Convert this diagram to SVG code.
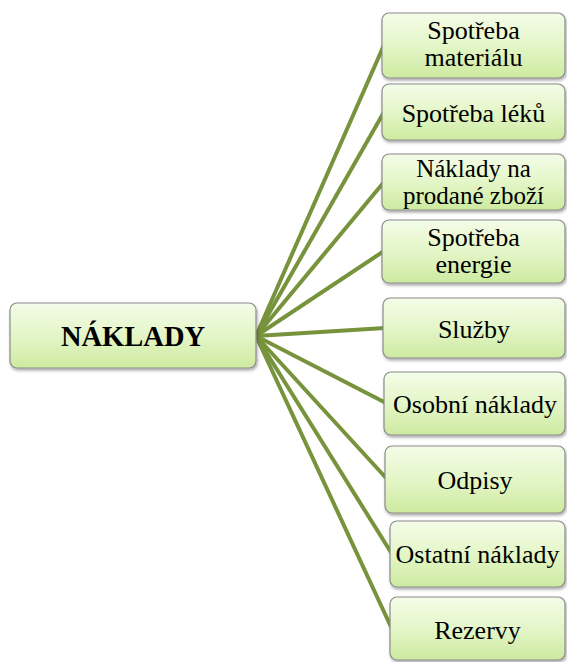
<svg xmlns="http://www.w3.org/2000/svg" width="567" height="662" viewBox="0 0 567 662">
<defs>
<linearGradient id="g" x1="0" y1="0" x2="0" y2="1">
<stop offset="0" stop-color="#f4fce8"/>
<stop offset="0.5" stop-color="#e4f6c8"/>
<stop offset="1" stop-color="#cdeaa0"/>
</linearGradient>
<filter id="sh" x="-10%" y="-10%" width="120%" height="130%">
<feDropShadow dx="1" dy="2" stdDeviation="1.5" flood-color="#000" flood-opacity="0.35"/>
</filter>
</defs>
<style>
.box{fill:url(#g);stroke:#8c8c8c;stroke-width:1.2;filter:url(#sh)}
.t{font-family:"Liberation Serif","Times New Roman",serif;font-size:26px;fill:#000;text-anchor:middle}
.s{font-size:25px}
.b{font-weight:bold;font-size:28.5px}
.c line{stroke:#77933c;stroke-width:4;stroke-linecap:butt}
</style>
<rect width="567" height="662" fill="#fff"/>
<g class="c" id="connectors">
<line x1="256" y1="336" x2="384" y2="45"/>
<line x1="256" y1="336" x2="384" y2="112"/>
<line x1="256" y1="336" x2="384" y2="182"/>
<line x1="256" y1="336" x2="384" y2="251"/>
<line x1="256" y1="336" x2="385" y2="328"/>
<line x1="256" y1="336" x2="386" y2="403"/>
<line x1="256" y1="336" x2="387" y2="479"/>
<line x1="256" y1="336" x2="392" y2="554"/>
<line x1="256" y1="336" x2="392" y2="629"/>
</g>
<g id="root"><rect class="box" x="10" y="303" width="246" height="65" rx="7"/><text class="t b" x="133" y="346">NÁKLADY</text></g>
<g id="n1"><rect class="box" x="382" y="13" width="183" height="65" rx="7"/><text class="t" x="473.5" y="39">Spotřeba</text><text class="t" x="473.5" y="66">materiálu</text></g>
<g id="n2"><rect class="box" x="382" y="84" width="183" height="56" rx="7"/><text class="t" x="473.5" y="121.5">Spotřeba léků</text></g>
<g id="n3"><rect class="box" x="382" y="154" width="183" height="56" rx="7"/><text class="t s" x="473.5" y="177">Náklady na</text><text class="t s" x="473.5" y="204">prodané zboží</text></g>
<g id="n4"><rect class="box" x="382" y="220" width="183" height="63" rx="7"/><text class="t" x="473.5" y="246">Spotřeba</text><text class="t" x="473.5" y="273">energie</text></g>
<g id="n5"><rect class="box" x="383" y="298" width="182" height="60" rx="7"/><text class="t" x="474" y="338">Služby</text></g>
<g id="n6"><rect class="box" x="384" y="372" width="181" height="63" rx="7"/><text class="t" x="475" y="413">Osobní náklady</text></g>
<g id="n7"><rect class="box" x="385" y="446" width="180" height="67" rx="7"/><text class="t" x="475" y="489">Odpisy</text></g>
<g id="n8"><rect class="box" x="390" y="521" width="175" height="66" rx="7"/><text class="t" x="477.5" y="563">Ostatní náklady</text></g>
<g id="n9"><rect class="box" x="390" y="597" width="175" height="63" rx="7"/><text class="t" x="477.5" y="639">Rezervy</text></g>
</svg>
